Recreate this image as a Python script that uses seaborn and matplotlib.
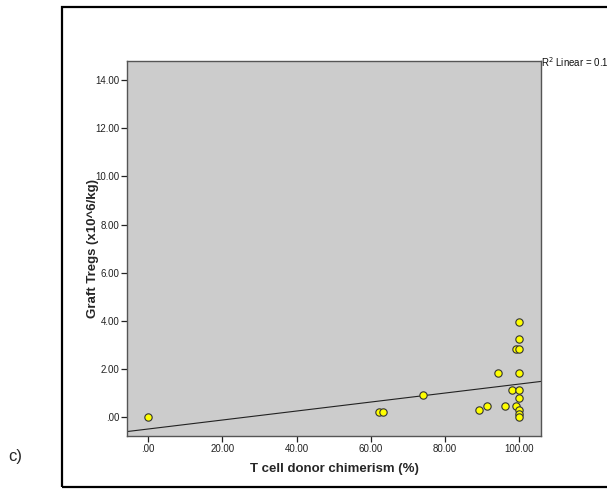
import numpy as np
import pandas as pd
import matplotlib
matplotlib.use("Agg")
import matplotlib.pyplot as plt
from matplotlib.patches import Rectangle
import seaborn as sns

# T cell donor chimerism (%) and graft Treg dose (x10^6/kg) per patient
chimerism = [0.0, 62.1, 63.2, 74.2, 89.2, 91.3, 94.2, 96.2, 98.2, 99.2,
             99.2, 100.0, 100.0, 100.0, 100.0, 100.0, 100.0, 100.0, 100.0, 100.0]
tregs = [0.00, 0.20, 0.20, 0.93, 0.28, 0.46, 1.83, 0.46, 1.11, 2.84,
         0.46, 3.95, 3.24, 2.84, 1.83, 1.11, 0.81, 0.31, 0.14, 0.02]

x_ticks = [0, 20, 40, 60, 80, 100]
y_ticks = [0, 2, 4, 6, 8, 10, 12, 14]

df = pd.DataFrame({"chimerism": chimerism, "tregs": tregs})

sns.set_style("ticks")
plt.rcParams["font.family"] = ["Liberation Sans", "DejaVu Sans"]


def spss_fmt(v):
    s = f"{v:.2f}"
    return s[1:] if s.startswith("0") else s


fig = plt.figure(figsize=(6.07, 4.93), dpi=100)
ax = fig.add_axes([127 / 607, 1 - 436 / 493, (541 - 127) / 607, (436 - 61) / 493])
ax.set_facecolor("#cccccc")
ax.set_xlim(-5.7, 105.9)
ax.set_ylim(-0.79, 14.8)

sns.regplot(data=df, x="chimerism", y="tregs", ax=ax, ci=None, truncate=False,
            scatter_kws=dict(s=28, color="#ffff00", edgecolor="#333333",
                             linewidths=0.8, alpha=1, zorder=3),
            line_kws=dict(color="#222222", linewidth=0.8, zorder=2))
ax.set_xlim(-5.7, 105.9)
ax.set_ylim(-0.79, 14.8)

ax.set_xticks(x_ticks)
ax.set_xticklabels([spss_fmt(v) for v in x_ticks])
ax.set_yticks(y_ticks)
ax.set_yticklabels([spss_fmt(v) for v in y_ticks])
ax.tick_params(axis="both", labelsize=7, length=4, width=0.9, colors="#222222",
               pad=1.5)
for sp in ax.spines.values():
    sp.set_visible(True)
    sp.set_color("#555555")
    sp.set_linewidth(1.0)

ax.set_xlabel("T cell donor chimerism (%)", fontsize=9.5, fontweight="bold",
              labelpad=7)
ax.set_ylabel("Graft Tregs (x10^6/kg)", fontsize=9.5, fontweight="bold",
              labelpad=-3)

# R squared of the linear fit
slope, intercept = np.polyfit(chimerism, tregs, 1)
pred = np.polyval([slope, intercept], chimerism)
r2 = 1 - np.sum((np.array(tregs) - pred) ** 2) / np.sum((np.array(tregs) - np.mean(tregs)) ** 2)
fig.text(541 / 607, 1 - 62 / 493, f"R$^2$ Linear = {r2:.3f}", fontsize=7,
         va="center", ha="left", color="#111111")

# outer chart frame
fig.patches.append(Rectangle((62 / 607, 1 - 487 / 493), (640 - 62) / 607,
                             (487 - 7) / 493, transform=fig.transFigure,
                             fill=False, edgecolor="black", linewidth=1.6))

fig.text(8 / 607, 1 - 456 / 493, "c)", fontsize=12, va="center", ha="left")

fig.savefig("out.png", dpi=100)
